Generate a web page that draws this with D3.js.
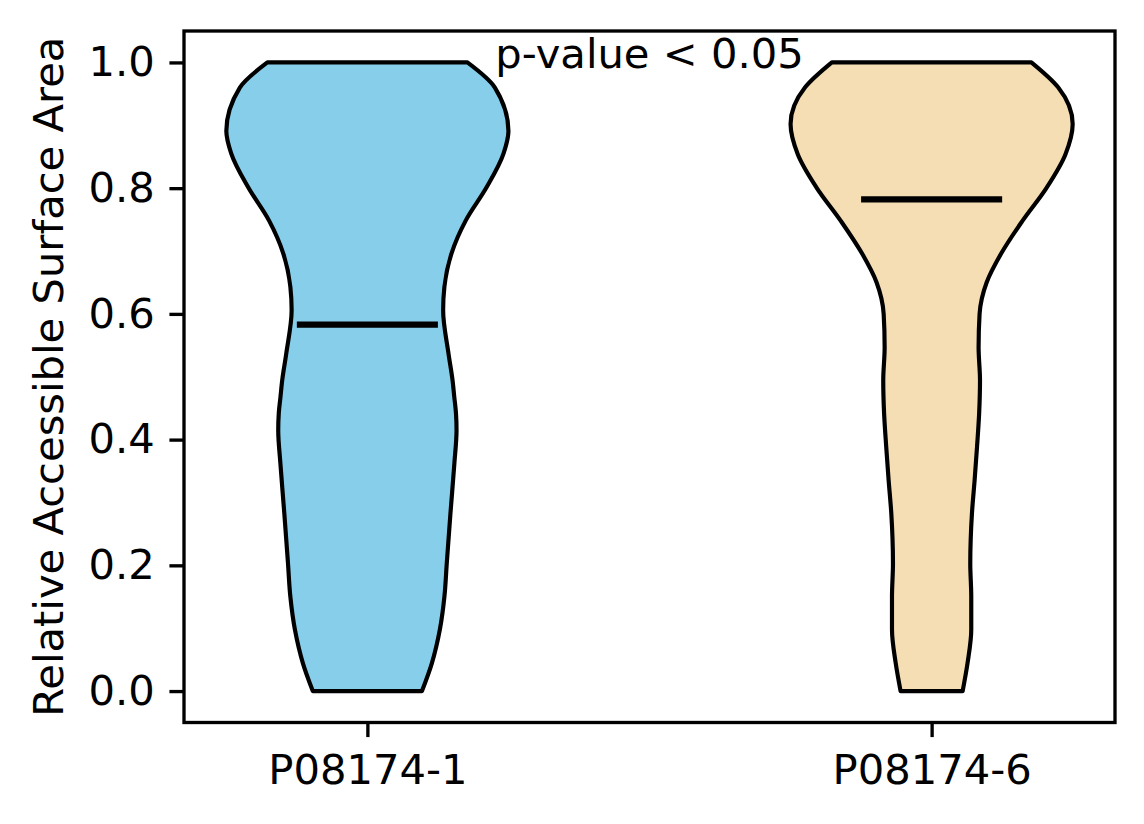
<!DOCTYPE html>
<html>
<head>
<meta charset="utf-8">
<script src="https://cdn.jsdelivr.net/npm/d3@7"></script>
<style>
  body { margin: 0; background: #fff; }
  text { font-family: "DejaVu Sans", sans-serif; }
</style>
</head>
<body>
<div id="chart-area"></div>
<script>
// categories and where they sit on the x axis
let categories = ["P08174-1", "P08174-6"]
let positions = [1, 2]
let colors = ["#87CEEB", "#F5DEB3"]
let medians = [0.583, 0.782]

// density outline: value level -> width relative to the widest point
let levels1 = [0, 0.045, 0.098, 0.15, 0.204, 0.283, 0.363, 0.415, 0.442, 0.468, 0.494, 0.537, 0.606, 0.643, 0.696, 0.748, 0.801, 0.855, 0.891, 0.96, 1.0]
let widths1 = [0.387, 0.458, 0.514, 0.546, 0.563, 0.589, 0.617, 0.632, 0.628, 0.616, 0.604, 0.575, 0.537, 0.546, 0.596, 0.696, 0.844, 0.965, 1.0, 0.904, 0.709]

let levels2 = [0, 0.045, 0.098, 0.15, 0.203, 0.283, 0.336, 0.389, 0.442, 0.494, 0.547, 0.6, 0.65, 0.696, 0.748, 0.801, 0.854, 0.902, 0.96, 1.0]
let widths2 = [0.22, 0.255, 0.281, 0.281, 0.274, 0.286, 0.305, 0.322, 0.337, 0.343, 0.333, 0.34, 0.39, 0.493, 0.644, 0.816, 0.949, 1.0, 0.898, 0.707]

let yTicks = [0.0, 0.2, 0.4, 0.6, 0.8, 1.0]
let annotation = "p-value < 0.05"
let yTitle = "Relative Accessible Surface Area"

let profiles = [
  levels1.map((v, i) => ({value: v, width: widths1[i]})),
  levels2.map((v, i) => ({value: v, width: widths2[i]}))
]

let margin = {top: 31, right: 29, bottom: 101.5, left: 184}
let canvasWidth = 1144 - margin.left - margin.right
let canvasHeight = 824 - margin.top - margin.bottom

let pt = 300 / 72   // figure was drawn at 300 dpi
let fontSize = 10 * pt

let svg = d3.select("#chart-area").append("svg")
  .attr("width", 1144)
  .attr("height", 824)

let group = svg.append("g")
  .attr("transform", "translate(" + margin.left + ", " + margin.top + ")")

let x = d3.scaleLinear()
  .domain([0.675, 2.325])
  .range([0, canvasWidth])

let y = d3.scaleLinear()
  .domain([-0.05, 1.05])
  .range([canvasHeight, 0])

let halfWidth = 0.25   // violin width 0.5 in data units

// violins
profiles.forEach((profile, i) => {
  let pos = positions[i]
  let area = d3.area()
    .curve(d3.curveMonotoneY)
    .y(d => y(d.value))
    .x0(d => x(pos - d.width * halfWidth))
    .x1(d => x(pos + d.width * halfWidth))

  group.append("path")
    .datum(profile)
    .attr("d", area)
    .attr("fill", colors[i])
    .attr("stroke", "black")
    .attr("stroke-width", 1 * pt)
    .attr("stroke-linejoin", "round")
})

// median lines
group.selectAll(".median")
  .data(medians)
  .enter()
  .append("line")
    .attr("class", "median")
    .attr("x1", (m, i) => x(positions[i] - halfWidth / 2))
    .attr("x2", (m, i) => x(positions[i] + halfWidth / 2))
    .attr("y1", m => y(m))
    .attr("y2", m => y(m))
    .attr("stroke", "black")
    .attr("stroke-width", 1.5 * pt)

// axes
let yAxisCall = d3.axisLeft(y)
  .tickValues(yTicks)
  .tickFormat(d3.format(".1f"))
  .tickSize(3.5 * pt)
  .tickPadding(3.5 * pt)
let yAxis = group.append("g")
  .attr("class", "y-axis")
  .call(yAxisCall)

let xAxisCall = d3.axisBottom(x)
  .tickValues(positions)
  .tickFormat((d, i) => categories[i])
  .tickSize(3.5 * pt)
  .tickPadding(3.5 * pt + 3)
let xAxis = group.append("g")
  .attr("class", "x-axis")
  .attr("transform", "translate(0, " + canvasHeight + ")")
  .call(xAxisCall)

;[xAxis, yAxis].forEach(ax => {
  ax.select(".domain").remove()
  ax.selectAll("line").attr("stroke-width", 0.8 * pt)
  ax.selectAll("text")
    .attr("font-size", fontSize)
    .attr("font-family", "DejaVu Sans")
    .attr("fill", "black")
})

// frame
group.append("rect")
  .attr("x", 0)
  .attr("y", 0)
  .attr("width", canvasWidth)
  .attr("height", canvasHeight)
  .attr("fill", "none")
  .attr("stroke", "black")
  .attr("stroke-width", 0.8 * pt)

// annotation
group.append("text")
  .attr("x", x(1.5))
  .attr("y", 68.3 - margin.top)
  .attr("font-size", fontSize)
  .attr("text-anchor", "middle")
  .text(annotation)

// Y label
group.append("text")
  .attr("x", -(canvasHeight / 2))
  .attr("y", 63.3 - margin.left)
  .attr("font-size", fontSize)
  .attr("text-anchor", "middle")
  .attr("transform", "rotate(-90)")
  .text(yTitle)
</script>
</body>
</html>
